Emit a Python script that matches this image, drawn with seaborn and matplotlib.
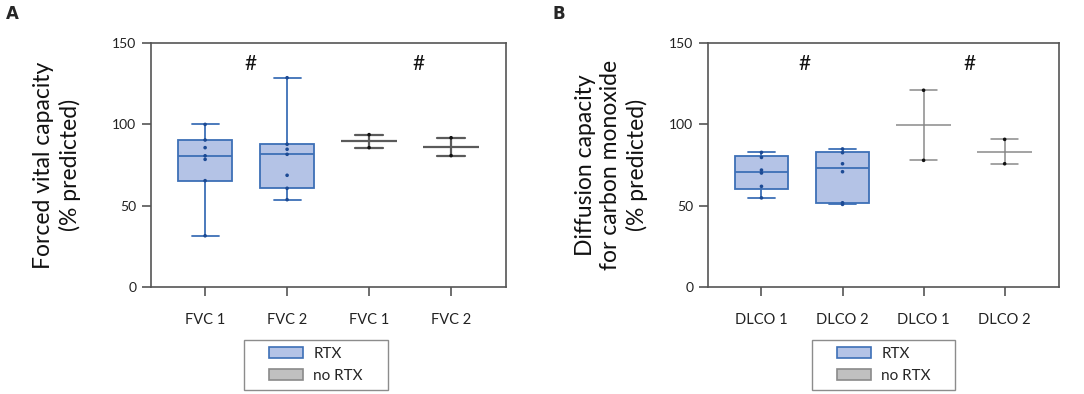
import numpy as np
import pandas as pd
import matplotlib
matplotlib.use("Agg")
import matplotlib.pyplot as plt
from matplotlib.patches import Patch, Rectangle
import seaborn as sns

# ---------------- data ----------------
fvc_labels = ["FVC 1", "FVC 2", "FVC 1", "FVC 2"]
dlco_labels = ["DLCO 1", "DLCO 2", "DLCO 1", "DLCO 2"]
groups = ["RTX", "RTX", "no RTX", "no RTX"]

fvc1_rtx = [31.5, 65.4, 78.5, 80.7, 85.7, 90.4, 100.0]
fvc2_rtx = [53.7, 60.7, 68.7, 81.6, 84.7, 87.8, 128.7]
fvc1_norm = [85.7, 93.7]
fvc2_norm = [80.8, 91.8]

dlco1_rtx = [54.8, 61.9, 70.1, 71.9, 79.7, 82.8]
dlco2_rtx = [50.8, 51.8, 70.9, 75.8, 82.6, 84.9]
dlco1_norm = [77.9, 121.0]
dlco2_norm = [75.8, 90.8]

yticks = [0, 50, 100, 150]
sig_mark = "#"

# ---------------- style ----------------
sns.set_theme(style="ticks")
plt.rcParams["font.family"] = ["Lato", "DejaVu Sans"]

BLUE_FILL = "#b4c3e6"
BLUE_EDGE = "#3d6fb6"
BLUE_DOT = "#1c4a94"
GRAY_FILL = "#c0c0c0"
GRAY_EDGE = "#8a8a8a"
SPINE = "#555555"


def stats_of(values, label):
    """GraphPad-like box statistics (quartiles by (n+1)p rule)."""
    v = np.sort(np.asarray(values, dtype=float))
    med = float(np.median(v))
    if len(v) < 3:
        q1 = q3 = med
    else:
        q1, q3 = np.percentile(v, [25, 75], method="weibull")
    return dict(med=med, q1=q1, q3=q3, whislo=v.min(), whishi=v.max(),
                fliers=[], label=label)


def panel(ax, datasets, labels, ylabel, nr_color, nr_lw, label_x, sig_x):
    rows = []
    slots = [f"s{i}" for i in range(len(datasets))]
    for slot, g, vals in zip(slots, groups, datasets):
        for v in vals:
            rows.append(dict(slot=slot, group=g, value=v))
    df = pd.DataFrame(rows)

    for i, (vals, g) in enumerate(zip(datasets, groups)):
        st = [stats_of(vals, labels[i])]
        if g == "RTX":
            ax.bxp(st, positions=[i], widths=0.66, capwidths=0.33,
                   patch_artist=True, showfliers=False, manage_ticks=False,
                   boxprops=dict(facecolor=BLUE_FILL, edgecolor=BLUE_EDGE, linewidth=1.3),
                   medianprops=dict(color=BLUE_EDGE, linewidth=1.3),
                   whiskerprops=dict(color=BLUE_EDGE, linewidth=1.3),
                   capprops=dict(color=BLUE_EDGE, linewidth=1.3))
        else:
            ax.bxp(st, positions=[i], widths=0.68, capwidths=0.34,
                   patch_artist=True, showfliers=False, manage_ticks=False,
                   boxprops=dict(facecolor="none", edgecolor="none", linewidth=0),
                   medianprops=dict(color=nr_color, linewidth=nr_lw),
                   whiskerprops=dict(color=nr_color, linewidth=nr_lw),
                   capprops=dict(color=nr_color, linewidth=nr_lw))

    sns.stripplot(data=df, x="slot", y="value", hue="group", order=slots,
                  palette={"RTX": BLUE_DOT, "no RTX": "#111111"},
                  jitter=False, size=2.6, linewidth=0, legend=False,
                  zorder=5, ax=ax)

    ax.set_xlim(-0.66, 3.67)
    ax.set_ylim(0, 150)
    ax.set_yticks(yticks)
    ax.set_xticks(range(len(labels)))
    ax.set_xticklabels(labels, fontsize=10.5, color="#222222")
    ax.tick_params(axis="y", labelsize=10, colors="#222222")
    ax.tick_params(axis="both", length=6.5, width=1.2, color=SPINE, pad=4)
    ax.tick_params(axis="x", pad=12)
    for s in ax.spines.values():
        s.set_visible(True)
        s.set_color(SPINE)
        s.set_linewidth(1.2)
    ax.set_xlabel("")
    ax.set_ylabel(ylabel, fontsize=16.5, color="#111111", linespacing=1.25)
    ax.yaxis.label.set_va("center")
    ax.yaxis.set_label_coords(label_x, 0.5)

    for sx in sig_x:
        ax.text(sx, 137, sig_mark, ha="center", va="center", fontsize=15,
                color="#111111")


fig = plt.figure(figsize=(10.84, 3.94), dpi=100)
axA = fig.add_axes([0.1393, 0.2716, 0.3275, 0.619])
axB = fig.add_axes([0.6531, 0.2716, 0.3238, 0.619])

panel(axA, [fvc1_rtx, fvc2_rtx, fvc1_norm, fvc2_norm], fvc_labels,
      "Forced vital capacity\n(% predicted)", "#5a5a5a", 1.6, -0.265, [0.55, 2.6])
panel(axB, [dlco1_rtx, dlco2_rtx, dlco1_norm, dlco2_norm], dlco_labels,
      "Diffusion capacity\nfor carbon monoxide\n(% predicted)", "#8a8a8a", 1.1,
      -0.275, [0.53, 2.57])

fig.text(6 / 1084, 1 - 14 / 394, "A", fontsize=12, fontweight="bold",
         ha="left", va="center", family=["DejaVu Sans"])
fig.text(553 / 1084, 1 - 14 / 394, "B", fontsize=12, fontweight="bold",
         ha="left", va="center", family=["DejaVu Sans"])

handles = [Patch(facecolor=BLUE_FILL, edgecolor=BLUE_EDGE, linewidth=1.2),
           Patch(facecolor=GRAY_FILL, edgecolor=GRAY_EDGE, linewidth=1.2)]
leg_labels = ["RTX", "no RTX"]

for (x0, x1), hx in [((244, 388), 275), ((812, 955), 843)]:
    W, H = 1084, 394
    fig.patches.append(Rectangle((x0 / W, 1 - 390 / H), (x1 - x0) / W, 50 / H,
                                 transform=fig.transFigure, facecolor="white",
                                 edgecolor="#8c8c8c", linewidth=1.0, zorder=0))
    fig.legend(handles, leg_labels, loc="center left",
               bbox_to_anchor=((hx - 6) / W, 1 - 365 / H),
               bbox_transform=fig.transFigure, frameon=False,
               fontsize=11, handlelength=2.2, handleheight=0.72,
               handletextpad=0.7, labelspacing=0.5, borderpad=0.0,
               borderaxespad=0.0)

fig.savefig("out.png", dpi=100)
